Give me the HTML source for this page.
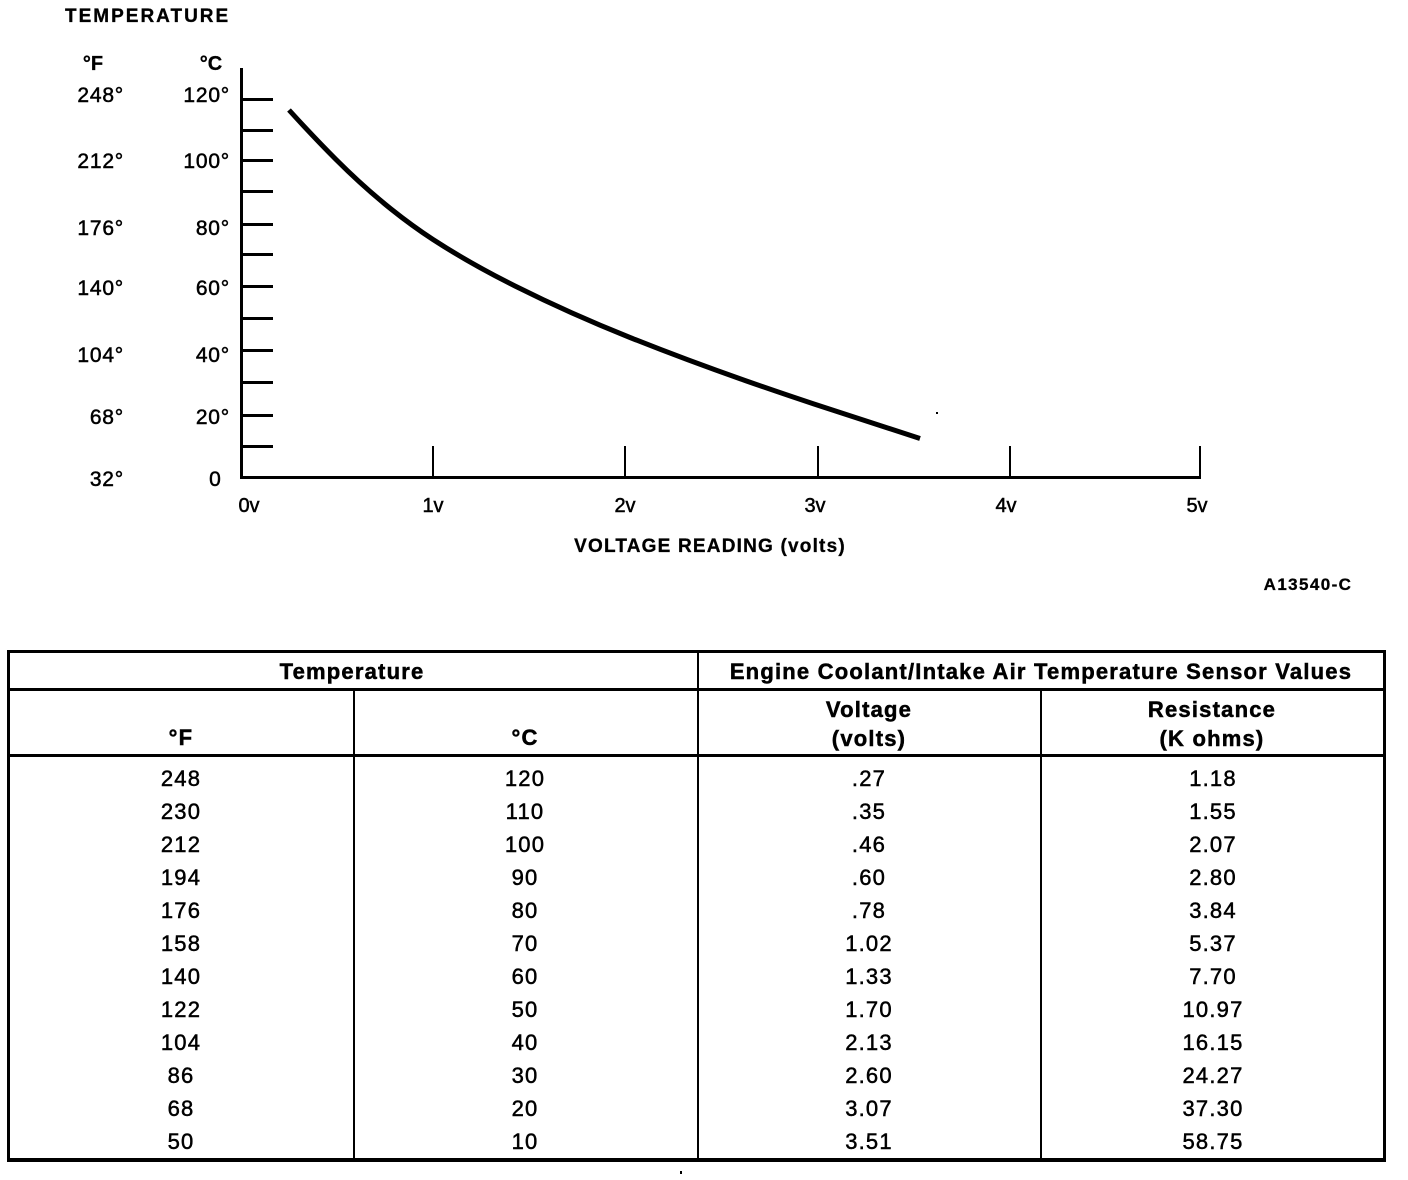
<!DOCTYPE html>
<html>
<head>
<meta charset="utf-8">
<style>
  html,body{margin:0;padding:0;background:#fff;}
  body{width:1408px;height:1180px;overflow:hidden;}
  svg{display:block;}
  text{font-family:"Liberation Sans", Arial, sans-serif;fill:#000;stroke:#000;stroke-width:0.5;}
  .b{font-weight:bold;stroke-width:0.3;}
</style>
</head>
<body>
<svg width="1408" height="1180" viewBox="0 0 1408 1180" xmlns="http://www.w3.org/2000/svg">
  <rect x="0" y="0" width="1408" height="1180" fill="#fff"/>

  <!-- Chart titles -->
  <text class="b" x="65" y="22" font-size="19" letter-spacing="2">TEMPERATURE</text>
  <text class="b" x="93" y="70" font-size="20" text-anchor="middle">°F</text>
  <text class="b" x="211" y="70" font-size="20" text-anchor="middle">°C</text>

  <!-- Y labels F -->
  <g font-size="21" text-anchor="end" letter-spacing="0.8">
    <text x="124" y="102">248°</text>
    <text x="124" y="168">212°</text>
    <text x="124" y="235">176°</text>
    <text x="124" y="295">140°</text>
    <text x="124" y="362">104°</text>
    <text x="124" y="424">68°</text>
    <text x="124" y="486">32°</text>
  </g>
  <!-- Y labels C -->
  <g font-size="21" text-anchor="end" letter-spacing="0.8">
    <text x="230" y="102">120°</text>
    <text x="230" y="168">100°</text>
    <text x="230" y="235">80°</text>
    <text x="230" y="295">60°</text>
    <text x="230" y="362">40°</text>
    <text x="230" y="424">20°</text>
  </g>
  <text x="215" y="486" font-size="21" text-anchor="middle">0</text>

  <!-- Axes -->
  <rect x="240" y="68" width="3" height="411" fill="#000"/>
  <rect x="240" y="476" width="961" height="3" fill="#000"/>
  <!-- Y ticks -->
  <g fill="#000">
    <rect x="241" y="98" width="32" height="3"/>
    <rect x="241" y="129" width="32" height="3"/>
    <rect x="241" y="159" width="32" height="3"/>
    <rect x="241" y="190" width="32" height="3"/>
    <rect x="241" y="223" width="32" height="3"/>
    <rect x="241" y="253" width="32" height="3"/>
    <rect x="241" y="285" width="32" height="3"/>
    <rect x="241" y="317" width="32" height="3"/>
    <rect x="241" y="349" width="32" height="3"/>
    <rect x="241" y="381" width="32" height="3"/>
    <rect x="241" y="414" width="32" height="3"/>
    <rect x="241" y="445" width="32" height="3"/>
  </g>
  <!-- X ticks -->
  <g fill="#000">
    <rect x="432" y="446" width="2" height="31"/>
    <rect x="624" y="446" width="2" height="31"/>
    <rect x="817" y="446" width="2" height="31"/>
    <rect x="1009" y="446" width="2" height="31"/>
    <rect x="1199" y="446" width="2" height="31"/>
  </g>

  <!-- X labels -->
  <g font-size="20" text-anchor="middle">
    <text x="249" y="512">0v</text>
    <text x="433" y="512">1v</text>
    <text x="625" y="512">2v</text>
    <text x="815" y="512">3v</text>
    <text x="1006" y="512">4v</text>
    <text x="1197" y="512">5v</text>
  </g>
  <text class="b" x="710" y="552" font-size="19" text-anchor="middle" letter-spacing="1.2">VOLTAGE READING (volts)</text>
  <text class="b" x="1308" y="590" font-size="17" text-anchor="middle" letter-spacing="1.4">A13540-C</text>

  <!-- Curve -->
  <path d="M289,110 C304.67,127.23 320.33,143.83 336,159.5 C354.33,177.83 372.67,194.33 391,209 C405,220.2 419,230.4 433,239.5 C460.33,257.27 487.67,272.33 515,286 C553.33,305.17 591.67,322.17 630,337.5 C668.33,352.83 706.67,367.08 745,380.5 C768,388.55 791,396.41 814,404 C849.33,415.66 884.67,427.19 920,438.5"
        fill="none" stroke="#000" stroke-width="5" stroke-linecap="butt" stroke-linejoin="round"/>

  <!-- stray dots -->
  <rect x="936" y="412" width="2" height="2" fill="#000"/>
  <rect x="680" y="1171" width="2" height="3" fill="#000"/>

  <!-- Table lines -->
  <g fill="#000">
    <rect x="7" y="650" width="1379" height="3"/>
    <rect x="7" y="650" width="3" height="512"/>
    <rect x="1383" y="650" width="3" height="512"/>
    <rect x="7" y="1158" width="1379" height="4"/>
    <rect x="7" y="688" width="1379" height="3"/>
    <rect x="7" y="754" width="1379" height="3"/>
    <rect x="353" y="689" width="2" height="471"/>
    <rect x="697" y="650" width="2" height="510"/>
    <rect x="1040" y="689" width="2" height="471"/>
  </g>

  <!-- Table headers -->
  <g class="b" font-size="22" text-anchor="middle" letter-spacing="1.2">
    <text x="352" y="679">Temperature</text>
    <text x="1041" y="679">Engine Coolant/Intake Air Temperature Sensor Values</text>
    <text x="869" y="717">Voltage</text>
    <text x="869" y="746">(volts)</text>
    <text x="1212" y="717">Resistance</text>
    <text x="1212" y="746">(K ohms)</text>
    <text x="181" y="745">°F</text>
    <text x="525" y="745">°C</text>
  </g>

  <!-- Table data -->
  <g font-size="22" text-anchor="middle" letter-spacing="1.2">
    <text x="181" y="786">248</text><text x="525" y="786">120</text><text x="869" y="786">.27</text><text x="1213" y="786">1.18</text>
    <text x="181" y="819">230</text><text x="525" y="819">110</text><text x="869" y="819">.35</text><text x="1213" y="819">1.55</text>
    <text x="181" y="852">212</text><text x="525" y="852">100</text><text x="869" y="852">.46</text><text x="1213" y="852">2.07</text>
    <text x="181" y="885">194</text><text x="525" y="885">90</text><text x="869" y="885">.60</text><text x="1213" y="885">2.80</text>
    <text x="181" y="918">176</text><text x="525" y="918">80</text><text x="869" y="918">.78</text><text x="1213" y="918">3.84</text>
    <text x="181" y="951">158</text><text x="525" y="951">70</text><text x="869" y="951">1.02</text><text x="1213" y="951">5.37</text>
    <text x="181" y="984">140</text><text x="525" y="984">60</text><text x="869" y="984">1.33</text><text x="1213" y="984">7.70</text>
    <text x="181" y="1017">122</text><text x="525" y="1017">50</text><text x="869" y="1017">1.70</text><text x="1213" y="1017">10.97</text>
    <text x="181" y="1050">104</text><text x="525" y="1050">40</text><text x="869" y="1050">2.13</text><text x="1213" y="1050">16.15</text>
    <text x="181" y="1083">86</text><text x="525" y="1083">30</text><text x="869" y="1083">2.60</text><text x="1213" y="1083">24.27</text>
    <text x="181" y="1116">68</text><text x="525" y="1116">20</text><text x="869" y="1116">3.07</text><text x="1213" y="1116">37.30</text>
    <text x="181" y="1149">50</text><text x="525" y="1149">10</text><text x="869" y="1149">3.51</text><text x="1213" y="1149">58.75</text>
  </g>
</svg>
</body>
</html>
